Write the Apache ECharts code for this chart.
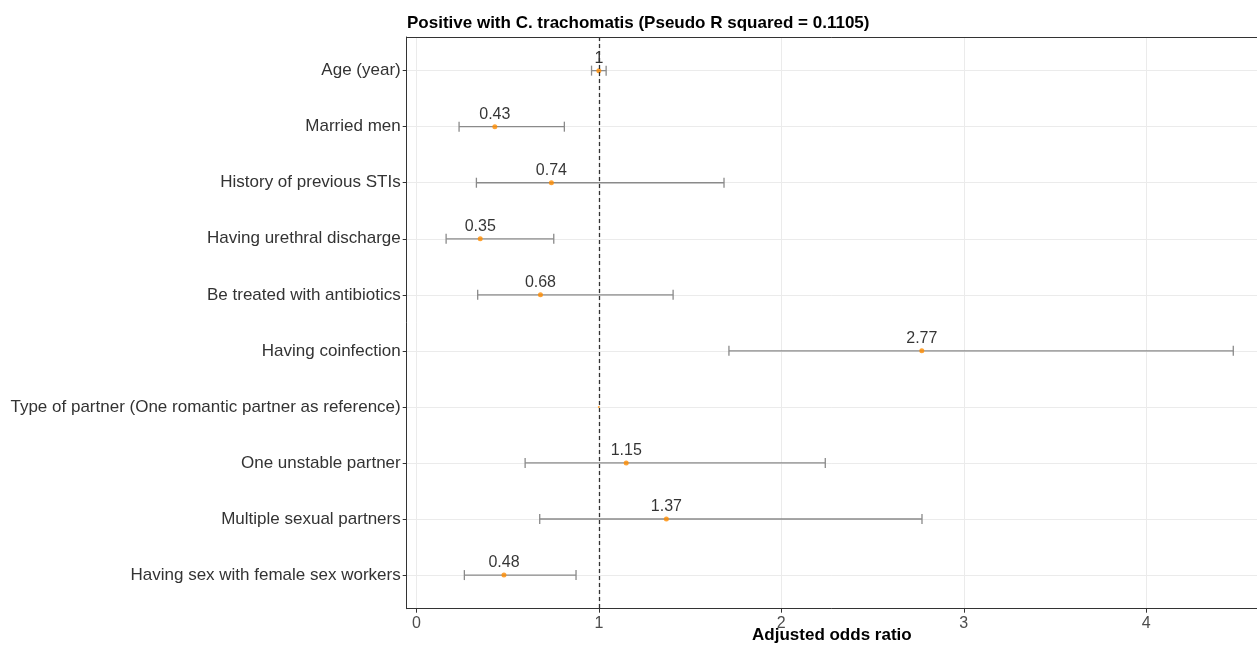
<!DOCTYPE html>
<html>
<head>
<meta charset="utf-8">
<script src="https://cdn.jsdelivr.net/npm/echarts@6/dist/echarts.min.js"></script>
<style>
html,body{margin:0;padding:0;background:#fff;}
#chart{width:1257px;height:649px;}
</style>
</head>
<body>
<div id="chart"></div>
<script>
const categories = [
  'Age (year)',
  'Married men',
  'History of previous STIs',
  'Having urethral discharge',
  'Be treated with antibiotics',
  'Having coinfection',
  'Type of partner (One romantic partner as reference)',
  'One unstable partner',
  'Multiple sexual partners',
  'Having sex with female sex workers'
];
const oddsRatio = [1, 0.43, 0.74, 0.35, 0.68, 2.77, 1, 1.15, 1.37, 0.48];
const lowerCI   = [0.96, 0.234, 0.329, 0.163, 0.336, 1.713, null, 0.596, 0.676, 0.263];
const upperCI   = [1.04, 0.811, 1.686, 0.753, 1.407, 4.477, null, 2.241, 2.771, 0.875];
const valueLabels = ['1', '0.43', '0.74', '0.35', '0.68', '2.77', '', '1.15', '1.37', '0.48'];
const xTicks = [0, 1, 2, 3, 4];
const yTicks = [0, 1, 2, 3, 4, 5, 6, 7, 8, 9];
const titleText = 'Positive with C. trachomatis (Pseudo R squared = 0.1105)';
const xAxisTitle = 'Adjusted odds ratio';

const FONT = "'Liberation Sans', Arial, sans-serif";

const errData = [];
const ptData = [];
for (let i = 0; i < categories.length; i++) {
  if (lowerCI[i] != null) errData.push([lowerCI[i], upperCI[i], i]);
  ptData.push([oddsRatio[i], i]);
}

const chart = echarts.init(document.getElementById('chart'), null, {renderer: 'canvas'});
chart.setOption({
  animation: false,
  backgroundColor: '#ffffff',
  title: {
    text: titleText,
    left: 402,
    top: 10,
    textStyle: {fontFamily: FONT, fontSize: 17, fontWeight: 'bold', color: '#000'}
  },
  grid: {
    left: 406.7, top: 37, right: 0, bottom: 40.3,
    show: false, containLabel: false, outerBoundsMode: 'none'
  },
  xAxis: [{
    type: 'value',
    min: -0.053, max: 4.607,
    minInterval: 1, maxInterval: 1,
    name: xAxisTitle,
    nameLocation: 'middle',
    nameGap: 18,
    nameMoveOverlap: false,
    nameTextStyle: {fontFamily: FONT, fontSize: 17, fontWeight: 'bold', color: '#000'},
    axisLine: {show: true, onZero: false, lineStyle: {color: '#333', width: 1}},
    axisTick: {show: true, length: 4, customValues: xTicks, lineStyle: {color: '#333'}},
    axisLabel: {customValues: xTicks, margin: 7, fontFamily: FONT, fontSize: 16, color: '#4d4d4d',
      formatter: v => String(v)},
    splitLine: {show: true, lineStyle: {color: '#ebebeb', width: 1}}
  }, {
    type: 'value',
    position: 'top',
    min: -0.053, max: 4.607,
    axisLine: {show: true, onZero: false, lineStyle: {color: '#333', width: 1}},
    axisTick: {show: false},
    axisLabel: {show: false},
    splitLine: {show: false}
  }],
  yAxis: {
    type: 'value',
    min: -0.6, max: 9.6,
    inverse: true,
    minInterval: 1, maxInterval: 1,
    axisLine: {show: true, onZero: false, lineStyle: {color: '#333', width: 1}},
    axisTick: {show: true, length: 4, customValues: yTicks, lineStyle: {color: '#333'}},
    axisLabel: {customValues: yTicks, margin: 6, fontFamily: FONT, fontSize: 17, color: '#333',
      formatter: v => (categories[v] !== undefined ? categories[v] : '')},
    splitLine: {show: true, lineStyle: {color: '#ebebeb', width: 1}}
  },
  series: [
    {
      type: 'custom',
      data: errData,
      z: 3,
      encode: {x: [0, 1], y: 2},
      renderItem: function (params, api) {
        const lo = api.coord([api.value(0), api.value(2)]);
        const hi = api.coord([api.value(1), api.value(2)]);
        const h = 5;
        const st = {stroke: '#8a8a8a', lineWidth: 1.3};
        return {
          type: 'group',
          children: [
            {type: 'line', shape: {x1: lo[0], y1: lo[1], x2: hi[0], y2: hi[1]}, style: st},
            {type: 'line', shape: {x1: lo[0], y1: lo[1] - h, x2: lo[0], y2: lo[1] + h}, style: st},
            {type: 'line', shape: {x1: hi[0], y1: hi[1] - h, x2: hi[0], y2: hi[1] + h}, style: st}
          ]
        };
      }
    },
    {
      type: 'scatter',
      data: ptData,
      z: 4,
      symbol: 'circle',
      symbolSize: function (val, params) { return valueLabels[params.dataIndex] ? 5 : 2; },
      itemStyle: {color: '#ff8c00'},
      label: {
        show: true,
        position: 'top',
        distance: 1.5,
        fontFamily: FONT,
        fontSize: 16,
        color: '#000',
        formatter: p => valueLabels[p.dataIndex]
      },
      markLine: {
        silent: true,
        symbol: ['none', 'none'],
        label: {show: false},
        lineStyle: {color: '#333', type: [4, 3], width: 1.3},
        data: [{xAxis: 1}]
      }
    }
  ]
});
</script>
</body>
</html>
